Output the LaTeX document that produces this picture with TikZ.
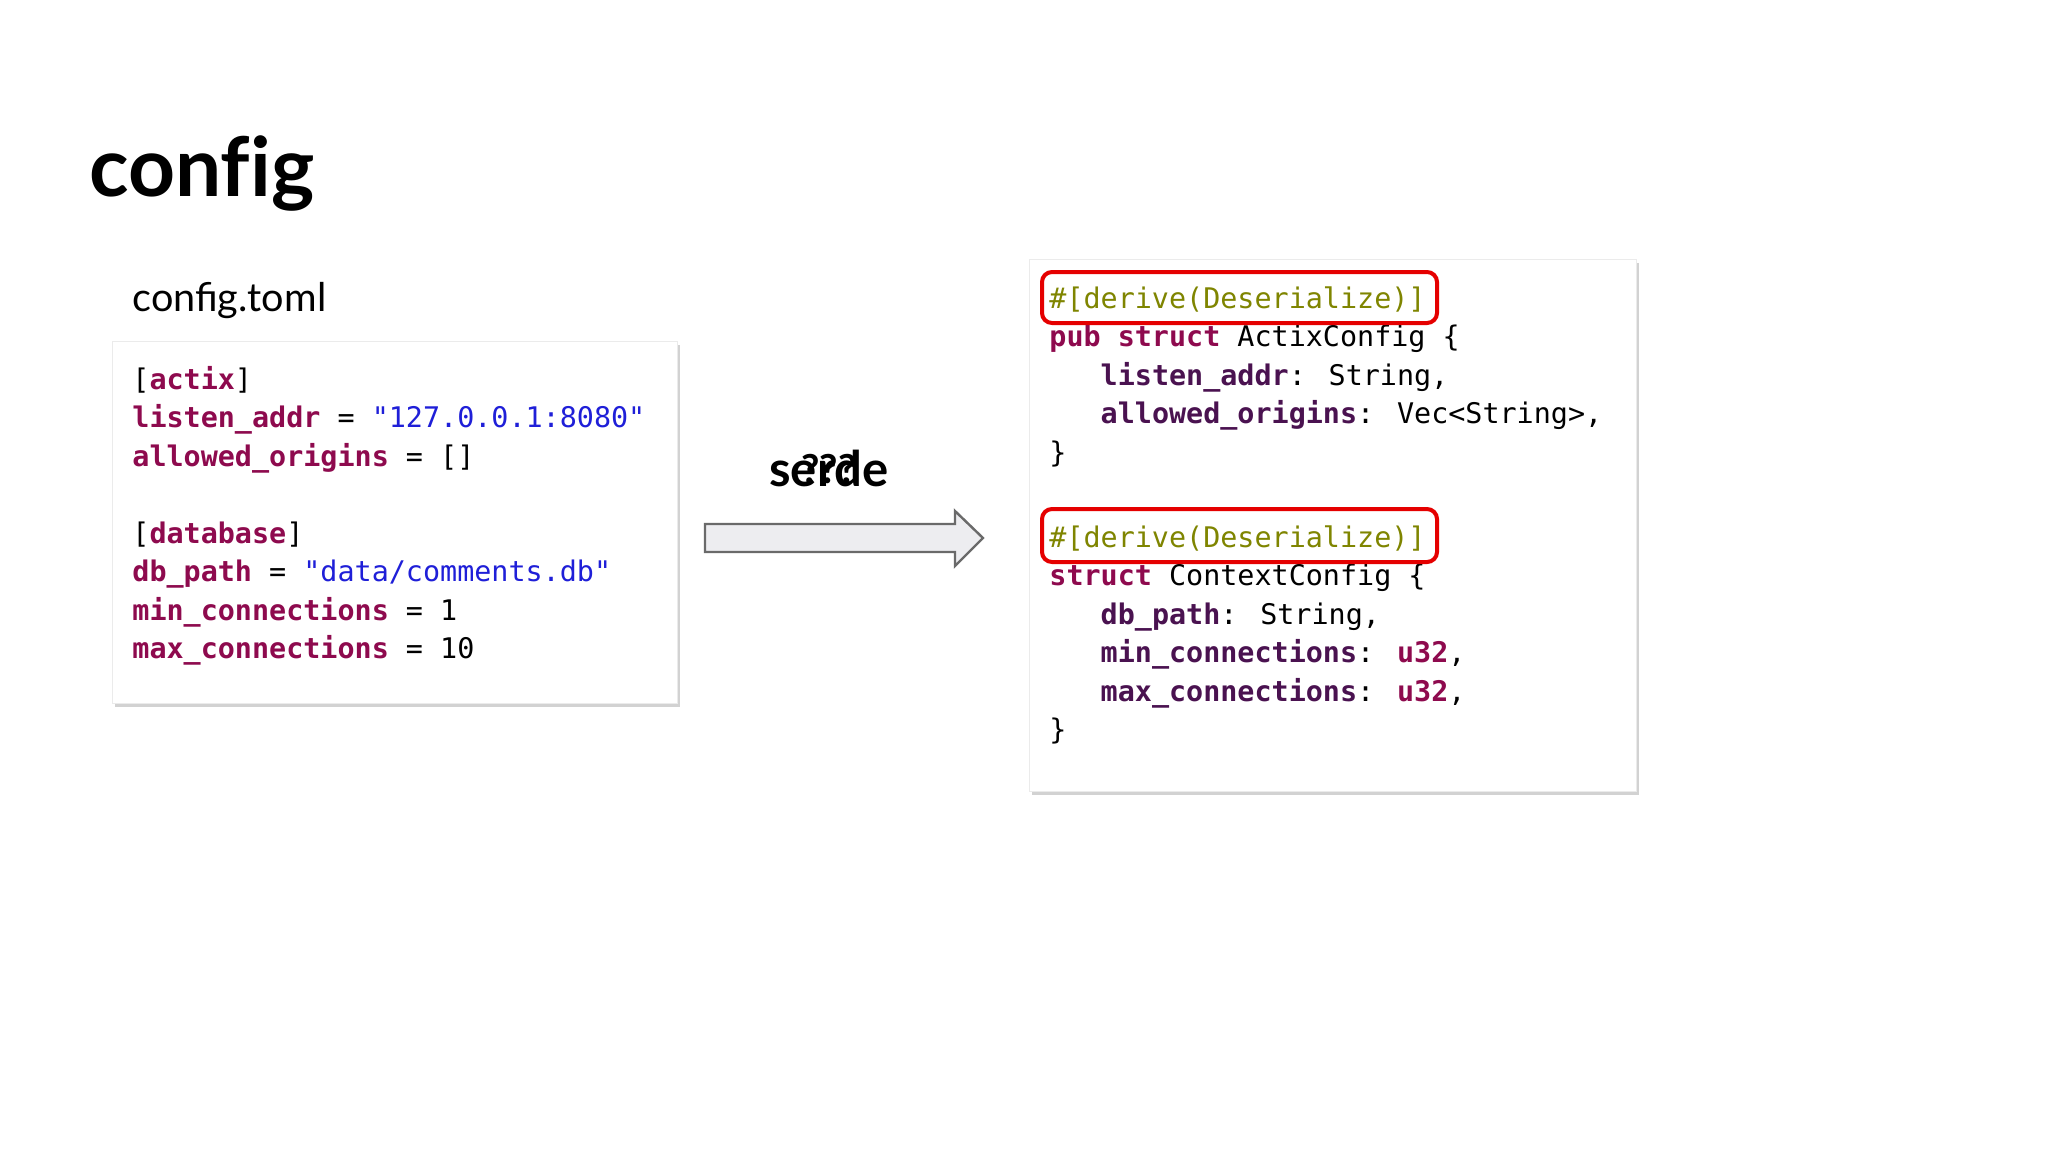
\documentclass[tikz,border=0pt]{standalone}
\usepackage{fontspec}
\setmainfont{Lato}
\newfontfamily\codef{DejaVu Sans Mono}
\usetikzlibrary{shadows}
\definecolor{kw}{HTML}{8E0A4E}
\definecolor{fld}{HTML}{4A1250}
\definecolor{str}{HTML}{1F1FD8}
\definecolor{olv}{HTML}{7F8500}
\definecolor{arrfill}{HTML}{EDEDF0}
\definecolor{arrline}{HTML}{6A6A6A}
\newcommand{\K}[1]{\textcolor{kw}{\bfseries #1}}
\newcommand{\F}[1]{\textcolor{fld}{\bfseries #1}}
\newcommand{\Sq}[1]{\textcolor{str}{#1}}
\tikzset{
  codeline/.style={anchor=base west,inner sep=0pt,font=\codef\fontsize{14.2pt}{17pt}\selectfont},
  codebox/.style={draw=black!8,fill=white,drop shadow={shadow xshift=1.5pt,shadow yshift=-2pt,opacity=0.35}},
  redbox/.style={draw=red!90!black,line width=2pt,rounded corners=5pt},
}
\begin{document}
\begin{tikzpicture}[x=0.5pt,y=-0.5pt]
\useasboundingbox[fill=white] (0,0) rectangle (2048,1152);
\node[anchor=base west,inner sep=0pt,font=\bfseries\fontsize{41pt}{48pt}\selectfont] (title) at (89,196) {conf\kern0pt ig};
\node[anchor=base west,inner sep=0pt,font=\fontsize{19.8pt}{23pt}\selectfont] (fname) at (132,311) {config.toml};
% left box
\node[codebox,minimum width=282.5pt,minimum height=181pt,anchor=north west,inner sep=0pt] (lbox) at (112,341) {};
\node[codeline] (l1) at (132,389) {[\K{actix}]};
\node[codeline] (l2) at (132,427.5) {\K{listen\_addr} = \Sq{"127.0.0.1:8080"}};
\node[codeline] (l3) at (132,466) {\K{allowed\_origins} = []};
\node[codeline] (l4) at (132,543) {[\K{database}]};
\node[codeline] (l5) at (132,581.5) {\K{db\_path} = \Sq{"data/comments.db"}};
\node[codeline] (l6) at (132,620) {\K{min\_connections} = 1};
\node[codeline] (l7) at (132,658.5) {\K{max\_connections} = 10};
% arrow
\draw[fill=arrfill,draw=arrline,line width=1.2pt] (705,524) -- (955,524) -- (955,511) -- (983,538) -- (955,566) -- (955,552) -- (705,552) -- cycle;
\node[anchor=base,inner sep=0pt,font=\bfseries\fontsize{24.5pt}{28pt}\selectfont] (serde) at (829,486) {serde};
\node[anchor=base,inner sep=0pt,font=\bfseries\fontsize{20pt}{24pt}\selectfont] (qq) at (829,483) {???};
% right box
\node[codebox,minimum width=303.5pt,minimum height=266pt,anchor=north west,inner sep=0pt] (rbox) at (1029,259) {};
\node[codeline] (r1) at (1049,308) {\textcolor{olv}{\#[derive(Deserialize)]}};
\node[codeline] (r2) at (1049,346.5) {\K{pub struct} ActixConfig \{};
\node[codeline] (r3) at (1049,385) {\phantom{xxx}\F{listen\_addr}: String,};
\node[codeline] (r4) at (1049,423.5) {\phantom{xxx}\F{allowed\_origins}: Vec<String>,};
\node[codeline] (r5) at (1049,462) {\}};
\node[codeline] (r6) at (1049,547) {\textcolor{olv}{\#[derive(Deserialize)]}};
\node[codeline] (r7) at (1049,585.5) {\K{struct} ContextConfig \{};
\node[codeline] (r8) at (1049,624) {\phantom{xxx}\F{db\_path}: String,};
\node[codeline] (r9) at (1049,662.5) {\phantom{xxx}\F{min\_connections}: \K{u32},};
\node[codeline] (r10) at (1049,701) {\phantom{xxx}\F{max\_connections}: \K{u32},};
\node[codeline] (r11) at (1049,739.5) {\}};
\draw[redbox] (1042,272) rectangle (1437,323);
\draw[redbox] (1042,509) rectangle (1437,562);
\end{tikzpicture}
\end{document}
